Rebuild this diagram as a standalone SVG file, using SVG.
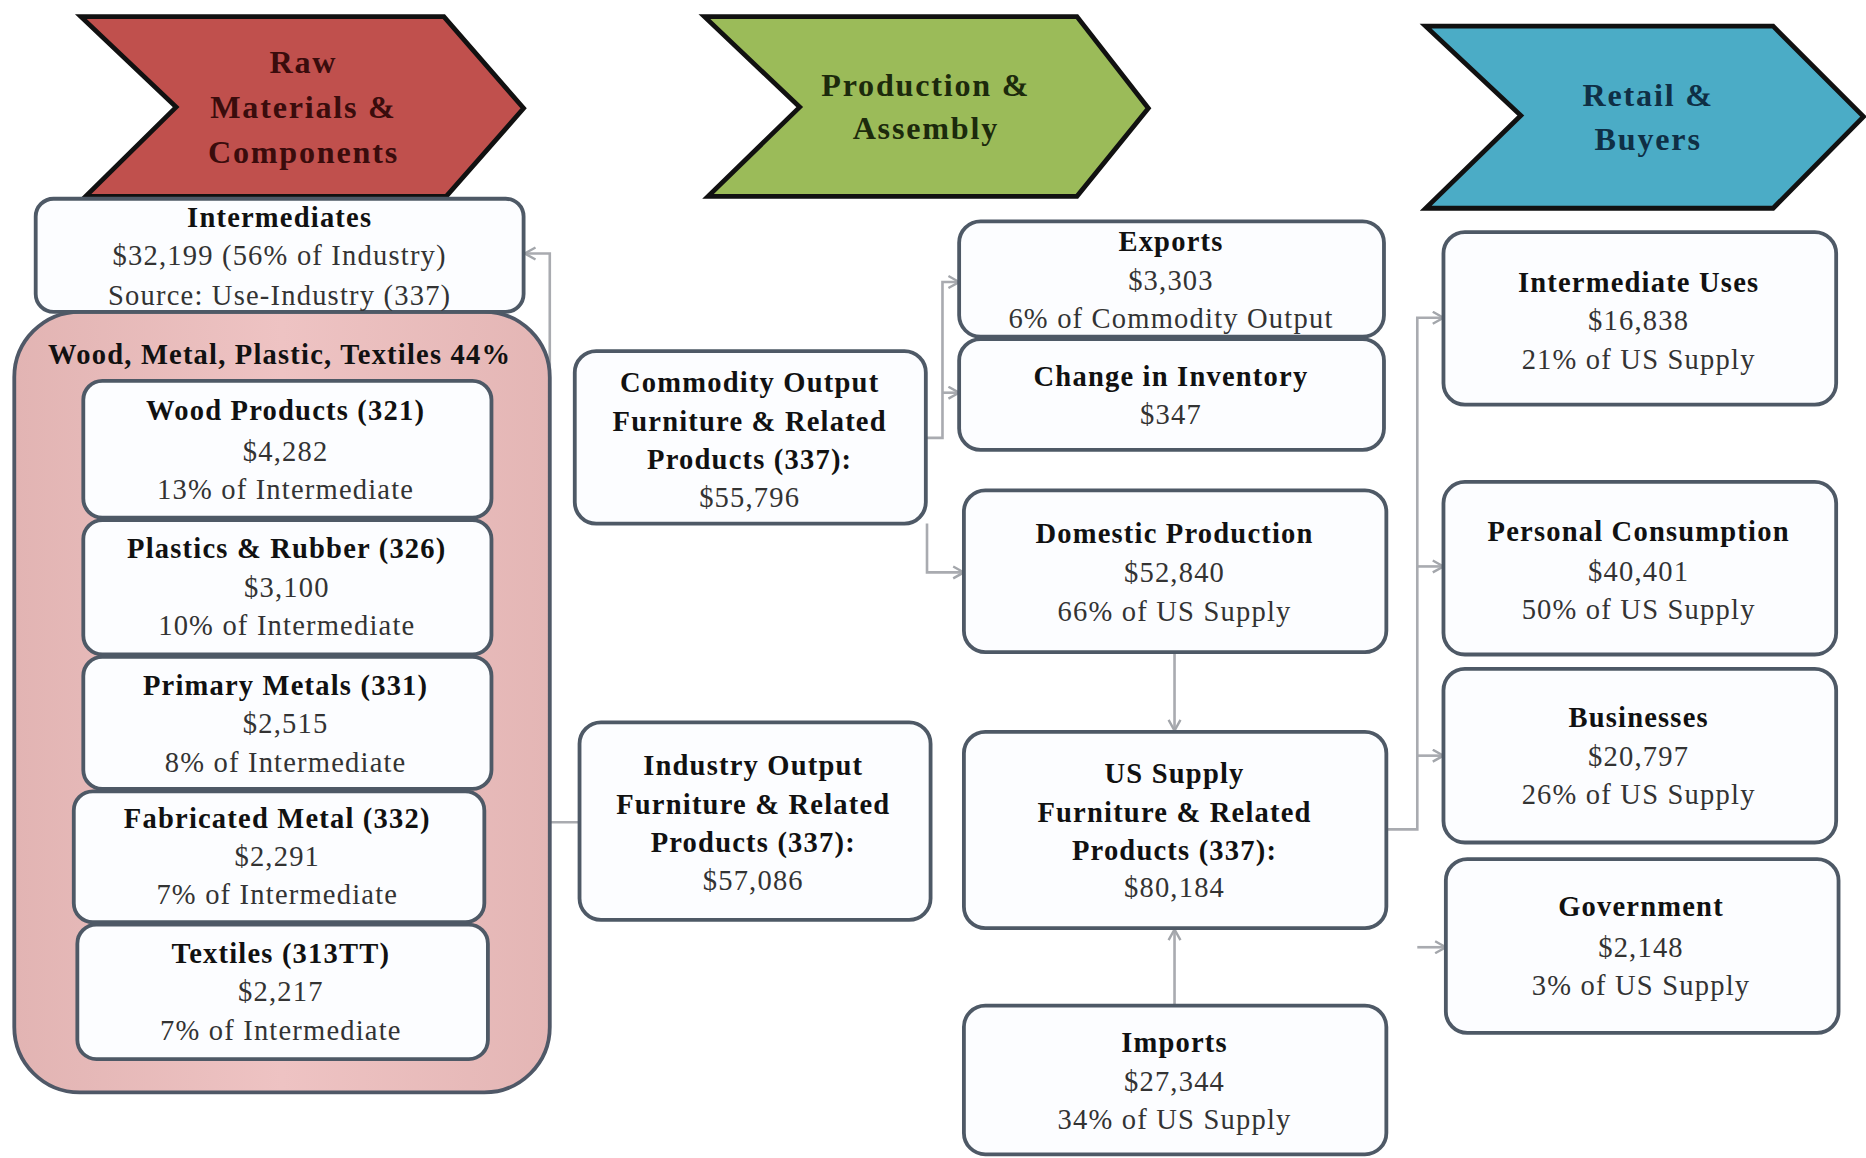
<svg xmlns="http://www.w3.org/2000/svg" width="1866" height="1158" viewBox="0 0 1866 1158">
<defs>
<marker id="arr" viewBox="0 0 12 12" refX="11" refY="6" markerWidth="12" markerHeight="12" markerUnits="userSpaceOnUse" orient="auto">
<path d="M2,1 L11,6 L2,11" fill="none" stroke="#a3a6ab" stroke-width="2"/>
</marker>
<linearGradient id="pink" x1="0" y1="0" x2="1" y2="0">
<stop offset="0" stop-color="#e2b4b3"/>
<stop offset="0.5" stop-color="#eec3c3"/>
<stop offset="1" stop-color="#e4b6b5"/>
</linearGradient>
</defs>
<style>
.box{fill:#fcfdff;stroke:#4e5966;stroke-width:3.2}
.chev{stroke:#111;stroke-width:4;stroke-linejoin:miter}
.t{font-family:"Liberation Serif","Times New Roman",serif;font-size:24px;text-anchor:middle;letter-spacing:1px;fill:#333}
.b{font-weight:bold;fill:#111}
.h{font-family:"Liberation Serif","Times New Roman",serif;font-size:27px;font-weight:bold;text-anchor:middle;letter-spacing:1.5px}
.c{fill:none;stroke:#a9abb0;stroke-width:2.2}
</style>
<rect width="1866" height="1158" fill="#ffffff"/>
<g transform="scale(1.19)">
<g id="stage-raw">
<polygon class="chev" points="68,14 373,14 440,91 375,165 72,165 148,90" fill="#c0504d"/>
<text class="h" fill="#3a0c0c"><tspan x="255" y="61">Raw</tspan><tspan x="255" y="99">Materials &amp;</tspan><tspan x="255" y="137">Components</tspan></text>
</g>
<g id="stage-production">
<polygon class="chev" points="592,14 905,14 965,91 905,165 595,165 672,90" fill="#9bbb59"/>
<text class="h" fill="#1c2a0c"><tspan x="778" y="81">Production &amp;</tspan><tspan x="778" y="117">Assembly</tspan></text>
</g>
<g id="stage-retail">
<polygon class="chev" points="1198,22 1490,22 1566,98 1490,175 1198,175 1278,97" fill="#4bacc6"/>
<text class="h" fill="#0f2f45"><tspan x="1385" y="89">Retail &amp;</tspan><tspan x="1385" y="126">Buyers</tspan></text>
</g>
<g id="connectors">
<path class="c" d="M486,691 H462 V213 H441" marker-end="url(#arr)"/>
<path class="c" d="M778,368 H792 V237 H806" marker-end="url(#arr)"/>
<path class="c" d="M792,330 H806" marker-end="url(#arr)"/>
<path class="c" d="M779,440 V481 H810" marker-end="url(#arr)"/>
<path class="c" d="M987,548 V614" marker-end="url(#arr)"/>
<path class="c" d="M987,845 V781" marker-end="url(#arr)"/>
<path class="c" d="M1165,697 H1191 V267 H1213" marker-end="url(#arr)"/>
<path class="c" d="M1191,476 H1213" marker-end="url(#arr)"/>
<path class="c" d="M1191,635 H1213" marker-end="url(#arr)"/>
<path class="c" d="M1191,796 H1215" marker-end="url(#arr)"/>
</g>
<g id="group-wood-metal">
<rect x="12" y="262" width="450" height="656" rx="55" fill="url(#pink)" stroke="#4f5867" stroke-width="3.2"/>
<text class="t b" x="235" y="306">Wood, Metal, Plastic, Textiles 44%</text>
</g>
<g id="intermediates">
<rect class="box" x="30" y="167" width="410" height="95" rx="15"/>
<text class="t b" x="235" y="191">Intermediates</text>
<text class="t" x="235" y="223">$32,199 (56% of Industry)</text>
<text class="t" x="235" y="256">Source: Use-Industry (337)</text>
</g>
<g id="wood">
<rect class="box" x="70" y="320" width="343" height="115" rx="16"/>
<text class="t b" x="240" y="353">Wood Products (321)</text>
<text class="t" x="240" y="387">$4,282</text>
<text class="t" x="240" y="419">13% of Intermediate</text>
</g>
<g id="plastics">
<rect class="box" x="70" y="437" width="343" height="113" rx="16"/>
<text class="t b" x="241" y="469">Plastics &amp; Rubber (326)</text>
<text class="t" x="241" y="502">$3,100</text>
<text class="t" x="241" y="534">10% of Intermediate</text>
</g>
<g id="primary-metals">
<rect class="box" x="70" y="552" width="343" height="111" rx="16"/>
<text class="t b" x="240" y="584">Primary Metals (331)</text>
<text class="t" x="240" y="616">$2,515</text>
<text class="t" x="240" y="649">8% of Intermediate</text>
</g>
<g id="fabricated-metal">
<rect class="box" x="62" y="665" width="345" height="110" rx="16"/>
<text class="t b" x="233" y="696">Fabricated Metal (332)</text>
<text class="t" x="233" y="728">$2,291</text>
<text class="t" x="233" y="760">7% of Intermediate</text>
</g>
<g id="textiles">
<rect class="box" x="65" y="777" width="345" height="113" rx="16"/>
<text class="t b" x="236" y="809">Textiles (313TT)</text>
<text class="t" x="236" y="841">$2,217</text>
<text class="t" x="236" y="874">7% of Intermediate</text>
</g>
<g id="commodity-output">
<rect class="box" x="483" y="295" width="295" height="145" rx="18"/>
<text class="t b" x="630" y="329">Commodity Output</text>
<text class="t b" x="630" y="362">Furniture &amp; Related</text>
<text class="t b" x="630" y="394">Products (337):</text>
<text class="t" x="630" y="426">$55,796</text>
</g>
<g id="industry-output">
<rect class="box" x="487" y="607" width="295" height="166" rx="18"/>
<text class="t b" x="633" y="651">Industry Output</text>
<text class="t b" x="633" y="684">Furniture &amp; Related</text>
<text class="t b" x="633" y="716">Products (337):</text>
<text class="t" x="633" y="748">$57,086</text>
</g>
<g id="exports">
<rect class="box" x="806" y="186" width="357" height="97" rx="18"/>
<text class="t b" x="984" y="211">Exports</text>
<text class="t" x="984" y="244">$3,303</text>
<text class="t" x="984" y="276">6% of Commodity Output</text>
</g>
<g id="inventory">
<rect class="box" x="806" y="285" width="357" height="93" rx="18"/>
<text class="t b" x="984" y="324">Change in Inventory</text>
<text class="t" x="984" y="356">$347</text>
</g>
<g id="domestic-production">
<rect class="box" x="810" y="412" width="355" height="136" rx="18"/>
<text class="t b" x="987" y="456">Domestic Production</text>
<text class="t" x="987" y="489">$52,840</text>
<text class="t" x="987" y="522">66% of US Supply</text>
</g>
<g id="us-supply">
<rect class="box" x="810" y="615" width="355" height="165" rx="18"/>
<text class="t b" x="987" y="658">US Supply</text>
<text class="t b" x="987" y="691">Furniture &amp; Related</text>
<text class="t b" x="987" y="723">Products (337):</text>
<text class="t" x="987" y="754">$80,184</text>
</g>
<g id="imports">
<rect class="box" x="810" y="845" width="355" height="125" rx="18"/>
<text class="t b" x="987" y="884">Imports</text>
<text class="t" x="987" y="917">$27,344</text>
<text class="t" x="987" y="949">34% of US Supply</text>
</g>
<g id="intermediate-uses">
<rect class="box" x="1213" y="195" width="330" height="145" rx="18"/>
<text class="t b" x="1377" y="245">Intermediate Uses</text>
<text class="t" x="1377" y="277">$16,838</text>
<text class="t" x="1377" y="310">21% of US Supply</text>
</g>
<g id="personal-consumption">
<rect class="box" x="1213" y="405" width="330" height="145" rx="18"/>
<text class="t b" x="1377" y="455">Personal Consumption</text>
<text class="t" x="1377" y="488">$40,401</text>
<text class="t" x="1377" y="520">50% of US Supply</text>
</g>
<g id="businesses">
<rect class="box" x="1213" y="562" width="330" height="146" rx="18"/>
<text class="t b" x="1377" y="611">Businesses</text>
<text class="t" x="1377" y="644">$20,797</text>
<text class="t" x="1377" y="676">26% of US Supply</text>
</g>
<g id="government">
<rect class="box" x="1215" y="722" width="330" height="146" rx="18"/>
<text class="t b" x="1379" y="770">Government</text>
<text class="t" x="1379" y="804">$2,148</text>
<text class="t" x="1379" y="836">3% of US Supply</text>
</g>
</g>
</svg>
